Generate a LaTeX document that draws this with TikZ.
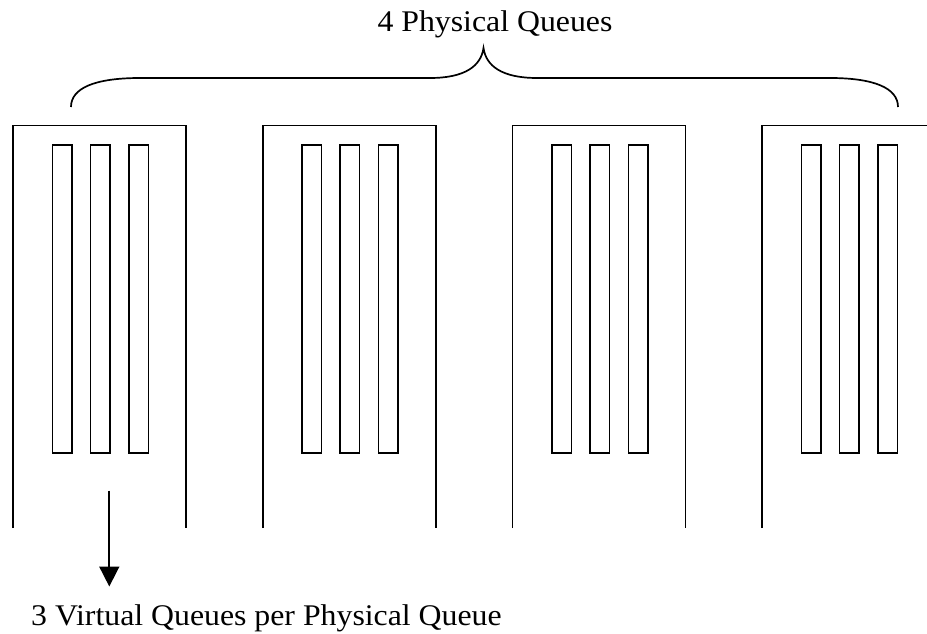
\documentclass[tikz,border=0pt]{standalone}
\usepackage{fontspec}
\setmainfont{Liberation Serif}
\usetikzlibrary{arrows.meta}
\tikzset{
  wall/.style={line width=1.8pt, line cap=butt},
  vq/.style={draw, line width=1.6pt, minimum width=19.5pt, minimum height=308pt, inner sep=0pt, anchor=north west},
  lbl/.style={font=\fontsize{30}{35}\selectfont, inner sep=0pt},
  bigarrow/.style={line width=1.7pt, -{Triangle[width=20pt,length=20pt]}}
}
\begin{document}
\begin{tikzpicture}[x=1pt,y=-1pt]
\useasboundingbox (0,0) rectangle (927,634);
% physical queues
\foreach \i/\L in {1/13, 2/262.7, 3/512.5, 4/762.3}{
  \ifnum\i<4
    \draw[wall] (\L,528) -- (\L,125.5) -- (\L+173,125.5) -- (\L+173,528);
  \else
    \draw[wall] (\L,528) -- (\L,125.5) -- (927,125.5);
  \fi
  \node[vq] (v\i a) at (\L+38.5,144.3) {};
  \node[vq] (v\i b) at (\L+76.5,144.3) {};
  \node[vq] (v\i c) at (\L+115,144.3) {};
}
% brace
\draw[line width=1.7pt]
  (71,107) .. controls (71,88) and (95,78) .. (140,78) -- (430,78)
  .. controls (465,78) and (481,66) .. (483.5,48)
  .. controls (486,66) and (502,78) .. (537,78) -- (830,78)
  .. controls (874,78) and (898,88) .. (898,107);
\node[lbl, anchor=base] (phys) at (495,31.5) {\scalebox{1.06}[1]{4 Physical Queues}};
% arrow
\coordinate (astart) at (109.3,490.5);
\coordinate (aend) at (109.3,586.5);
\draw[bigarrow] (astart) -- (aend);
\node[lbl, anchor=base west] (virt) at (31,625) {\scalebox{1.06}[1]{3 Virtual Queues per Physical Queue}};
\end{tikzpicture}
\end{document}
